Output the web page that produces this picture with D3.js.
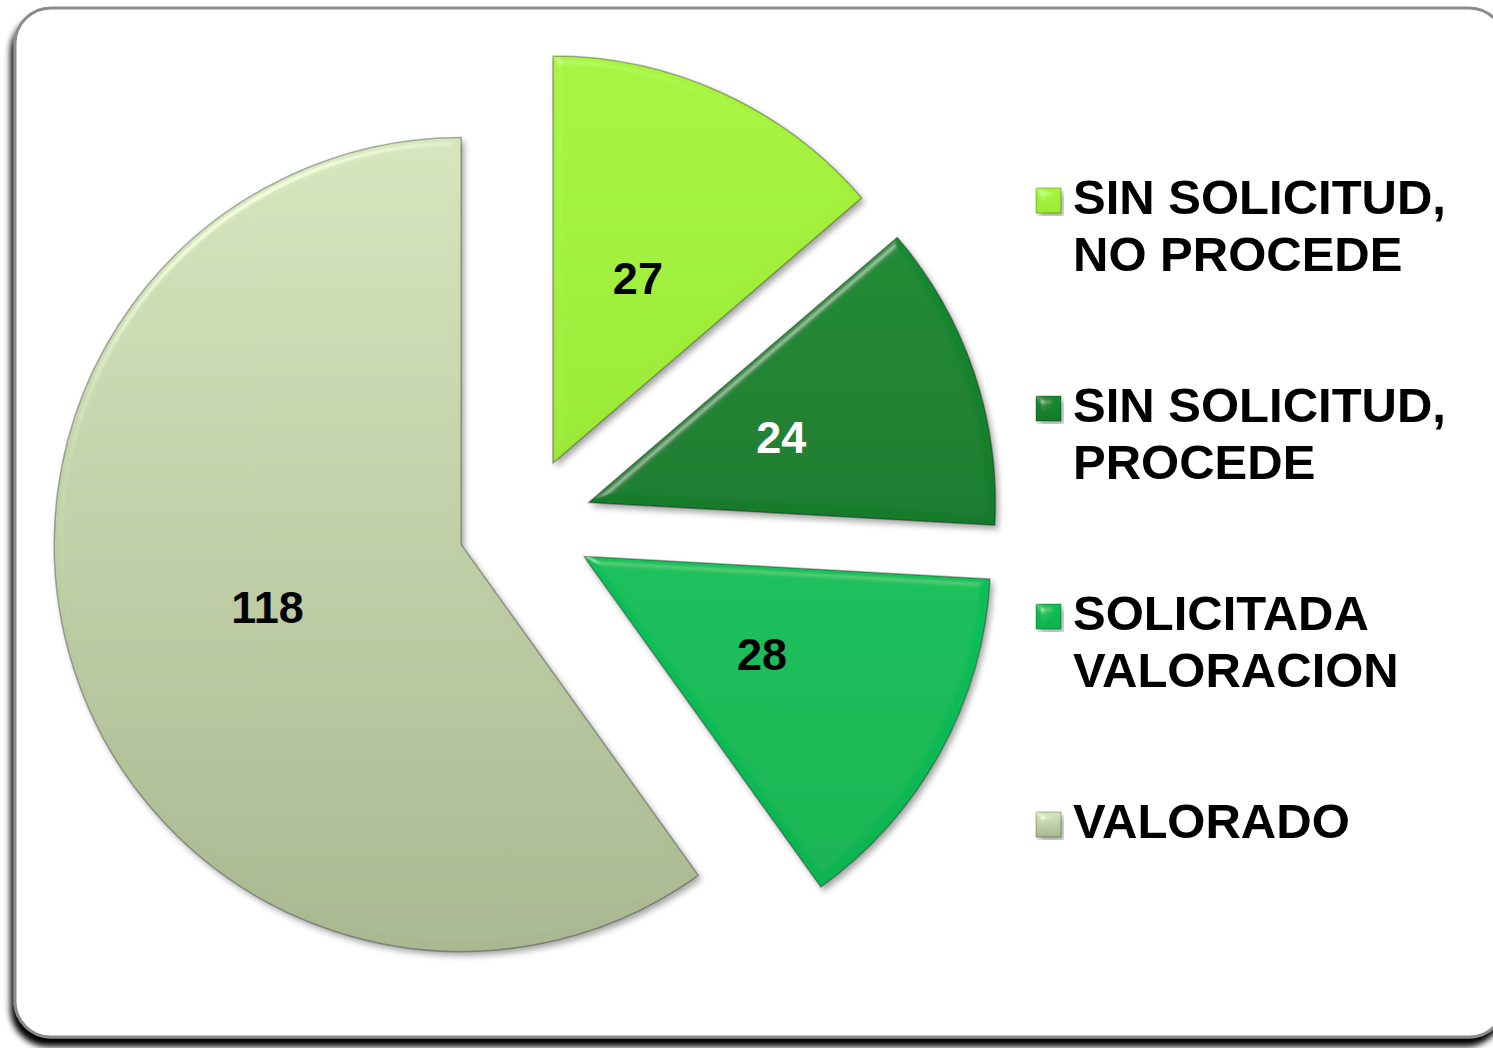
<!DOCTYPE html>
<meta charset="utf-8">
<style>
body { margin: 0; background: #fff; }
svg { display: block; }
.slice-label { font-family: Arial, "Liberation Sans", sans-serif; font-weight: bold; font-size: 45px; }
.legend text { font-family: Arial, "Liberation Sans", sans-serif; font-weight: bold; font-size: 49px; fill: #000; }
</style>
<body>
<script src="https://d3js.org/d3.v7.min.js"></script>
<script>

// data
var categories = ["SIN SOLICITUD, NO PROCEDE", "SIN SOLICITUD, PROCEDE", "SOLICITADA VALORACION", "VALORADO"];
var values = [27, 24, 28, 118];
var legendLines = [["SIN SOLICITUD,", "NO PROCEDE"], ["SIN SOLICITUD,", "PROCEDE"], ["SOLICITADA", "VALORACION"], ["VALORADO"]];

// colours per slice: top / bottom of gradient, label colour
var topColors = ["#a8f43e", "#178a31", "#10c05a", "#d6e5bc"];
var botColors = ["#9aea34", "#137a2b", "#0ab350", "#a9b890"];
var labelColors = ["#000", "#fff", "#000", "#000"];

var W = 1493, H = 1048;
var cx = 525, cy = 524, R = 407, explode = 67;

var svg = d3.select("body").append("svg")
    .attr("width", W)
    .attr("height", H);

var defs = svg.append("defs");

// frame shadow
var fs = defs.append("filter").attr("id", "frameShadow")
    .attr("x", "-5%").attr("y", "-5%").attr("width", "110%").attr("height", "115%");
fs.append("feDropShadow").attr("dx", -3).attr("dy", 8).attr("stdDeviation", 3)
    .attr("flood-color", "#000").attr("flood-opacity", 1);

// slice bevel + shadow
var bf = defs.append("filter").attr("id", "bevel")
    .attr("x", "-10%").attr("y", "-10%").attr("width", "120%").attr("height", "120%");
bf.append("feGaussianBlur").attr("in", "SourceAlpha").attr("stdDeviation", 4).attr("result", "blur");
var spec = bf.append("feSpecularLighting").attr("in", "blur").attr("surfaceScale", 4)
    .attr("specularConstant", 0.6).attr("specularExponent", 60)
    .attr("lighting-color", "#ffffff").attr("result", "spec");
spec.append("feDistantLight").attr("azimuth", 235).attr("elevation", 50);
bf.append("feComposite").attr("in", "spec").attr("in2", "SourceAlpha").attr("operator", "in").attr("result", "specOut");
bf.append("feComposite").attr("in", "SourceGraphic").attr("in2", "specOut").attr("operator", "arithmetic")
    .attr("k1", 0).attr("k2", 1).attr("k3", 0.45).attr("k4", 0).attr("result", "lit");
bf.append("feGaussianBlur").attr("in", "SourceAlpha").attr("stdDeviation", 3).attr("result", "sblur");
bf.append("feOffset").attr("in", "sblur").attr("dx", 3).attr("dy", 4).attr("result", "soff");
bf.append("feComponentTransfer").attr("in", "soff").attr("result", "sfade")
  .append("feFuncA").attr("type", "linear").attr("slope", 0.35);
var mg = bf.append("feMerge");
mg.append("feMergeNode").attr("in", "sfade");
mg.append("feMergeNode").attr("in", "lit");

values.forEach(function(v, i) {
  var g = defs.append("linearGradient").attr("id", "grad" + i)
      .attr("x1", 0).attr("y1", 0).attr("x2", 0).attr("y2", 1);
  g.append("stop").attr("offset", "0%").attr("stop-color", topColors[i]);
  g.append("stop").attr("offset", "100%").attr("stop-color", botColors[i]);
});

// frame
svg.append("rect")
    .attr("x", 15).attr("y", 8)
    .attr("width", 1490).attr("height", 1029)
    .attr("rx", 36).attr("ry", 36)
    .attr("fill", "#fff")
    .attr("stroke", "#8c8c8c")
    .attr("stroke-width", 3)
    .attr("filter", "url(#frameShadow)");

// pie
var pie = d3.pie().sort(null).value(function(d) { return d; });
var arcs = pie(values);
var arc = d3.arc().innerRadius(0).outerRadius(R);
var labelArc = d3.arc().innerRadius(0).outerRadius(R);

var chart = svg.append("g").attr("transform", "translate(" + cx + "," + cy + ")");

var slices = chart.selectAll("g.slice")
    .data(arcs)
    .enter()
    .append("g")
    .attr("class", "slice")
    .attr("transform", function(d) {
      var a = (d.startAngle + d.endAngle) / 2;
      return "translate(" + (Math.sin(a) * explode) + "," + (-Math.cos(a) * explode) + ")";
    });

slices.append("path")
    .attr("d", arc)
    .attr("fill", function(d, i) { return "url(#grad" + i + ")"; })
    .attr("stroke", "rgba(0,0,0,0.3)")
    .attr("stroke-width", 1.5)
    .attr("filter", "url(#bevel)");

slices.append("text")
    .attr("class", "slice-label")
    .attr("transform", function(d) { return "translate(" + labelArc.centroid(d) + ")"; })
    .attr("text-anchor", "middle")
    .attr("dy", "0.36em")
    .style("fill", function(d, i) { return labelColors[i]; })
    .text(function(d) { return d.value; });

// legend
var legend = svg.append("g").attr("class", "legend");
var entry = legend.selectAll("g")
    .data(categories)
    .enter()
    .append("g")
    .attr("transform", function(d, i) { return "translate(1036," + (200 + i * 208) + ")"; });

entry.append("rect")
    .attr("x", 0).attr("y", -12)
    .attr("width", 25).attr("height", 25)
    .attr("fill", function(d, i) { return "url(#grad" + i + ")"; })
    .attr("stroke", "rgba(0,0,0,0.3)")
    .attr("stroke-width", 1)
    .attr("filter", "url(#bevel)");

entry.append("text")
    .attr("x", 37)
    .attr("y", 14)
    .selectAll("tspan")
    .data(function(d, i) { return legendLines[i]; })
    .enter()
    .append("tspan")
    .attr("x", 37)
    .attr("dy", function(d, j) { return j === 0 ? 0 : 57; })
    .text(function(d) { return d; });

</script>
</body>
